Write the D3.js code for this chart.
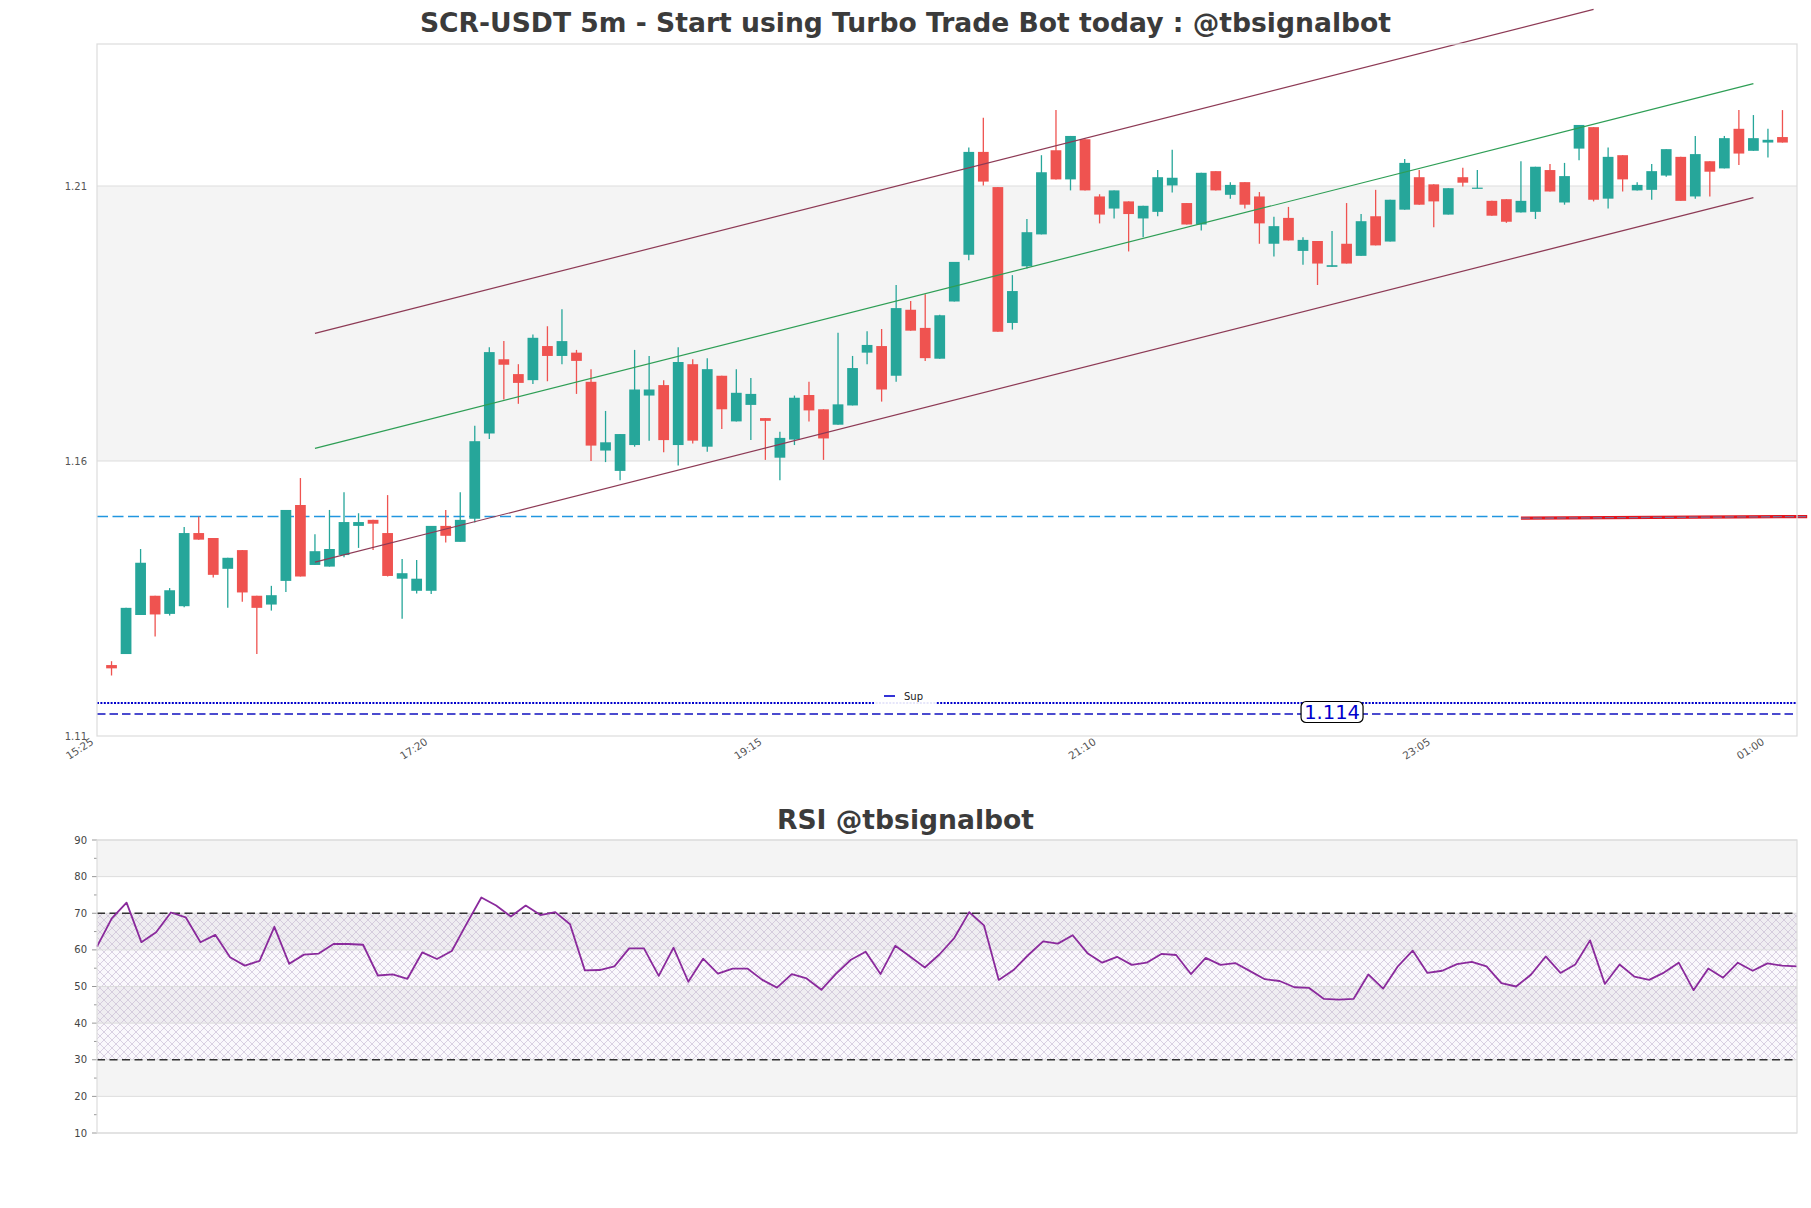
<!DOCTYPE html>
<html><head><meta charset="utf-8">
<script src="https://cdn.jsdelivr.net/npm/d3@7"></script>
<style>body{margin:0;background:#fff;} svg{display:block;}</style>
</head><body>
<svg id="chart" width="1811" height="1208"></svg>
<script>
// ---------------- DATA ----------------
const opens  = [1.1229,1.1249,1.1320,1.1355,1.1322,1.1336,1.1469,1.1460,1.1404,1.1438,1.1355,1.1339,1.1382,1.1520,1.1411,1.1408,1.1429,1.1482,1.1493,1.1469,1.1386,1.1364,1.1364,1.1482,1.1453,1.1495,1.1650,1.1785,1.1758,1.1747,1.1809,1.1791,1.1797,1.1744,1.1619,1.1582,1.1629,1.1719,1.1738,1.1629,1.1776,1.1626,1.1755,1.1672,1.1702,1.1678,1.1606,1.1639,1.1720,1.1694,1.1666,1.1701,1.1797,1.1809,1.1755,1.1875,1.1842,1.1786,1.1890,1.1975,1.2162,1.2098,1.1851,1.1954,1.2012,1.2165,1.2112,1.2185,1.2081,1.2059,1.2072,1.2041,1.2053,1.2101,1.2069,1.2030,1.2127,1.2084,1.2107,1.2081,1.1995,1.2042,1.1982,1.2000,1.1953,1.1995,1.1973,1.2045,1.1999,1.2057,1.2116,1.2103,1.2048,1.2116,1.2096,1.2073,1.2076,1.2052,1.2053,1.2129,1.2070,1.2168,1.2207,1.2077,1.2156,1.2092,1.2093,1.2119,1.2153,1.2081,1.2145,1.2132,1.2204,1.2164,1.2179,1.2189];
const highs  = [1.1236,1.1333,1.1440,1.1355,1.1369,1.1480,1.1499,1.1460,1.1424,1.1438,1.1355,1.1373,1.1511,1.1569,1.1467,1.1511,1.1543,1.1505,1.1493,1.1538,1.1422,1.1420,1.1482,1.1511,1.1543,1.1664,1.1807,1.1818,1.1776,1.1830,1.1845,1.1876,1.1802,1.1767,1.1691,1.1649,1.1802,1.1791,1.1747,1.1807,1.1785,1.1787,1.1755,1.1767,1.1751,1.1678,1.1653,1.1719,1.1744,1.1694,1.1833,1.1791,1.1836,1.1840,1.1920,1.1891,1.1903,1.1866,1.1962,1.2170,1.2224,1.2098,1.1938,1.2040,1.2156,1.2238,1.2191,1.2185,1.2085,1.2092,1.2072,1.2064,1.2129,1.2166,1.2069,1.2124,1.2127,1.2107,1.2107,1.2089,1.2044,1.2062,1.2007,1.2000,1.2018,1.2069,1.2049,1.2093,1.2075,1.2149,1.2129,1.2103,1.2096,1.2133,1.2129,1.2073,1.2076,1.2145,1.2135,1.2140,1.2142,1.2211,1.2207,1.2170,1.2156,1.2107,1.2140,1.2167,1.2153,1.2191,1.2145,1.2191,1.2238,1.2229,1.2204,1.2238];
const lows   = [1.1210,1.1249,1.1320,1.1281,1.1319,1.1334,1.1457,1.1388,1.1333,1.1344,1.1249,1.1328,1.1362,1.1390,1.1411,1.1408,1.1425,1.1442,1.1438,1.1390,1.1313,1.1359,1.1358,1.1452,1.1453,1.1488,1.1640,1.1712,1.1704,1.1740,1.1745,1.1776,1.1722,1.1600,1.1598,1.1565,1.1626,1.1637,1.1616,1.1592,1.1632,1.1617,1.1658,1.1672,1.1638,1.1602,1.1565,1.1629,1.1672,1.1602,1.1666,1.1701,1.1776,1.1708,1.1744,1.1837,1.1782,1.1786,1.1890,1.1965,1.2101,1.1835,1.1839,1.1950,1.2012,1.2112,1.2092,1.2092,1.2032,1.2041,1.1981,1.2007,1.2045,1.2088,1.2030,1.2019,1.2092,1.2077,1.2059,1.1995,1.1972,1.2001,1.1957,1.1920,1.1953,1.1959,1.1973,1.1992,1.1999,1.2057,1.2066,1.2025,1.2048,1.2099,1.2096,1.2046,1.2033,1.2052,1.2040,1.2090,1.2066,1.2147,1.2072,1.2059,1.2090,1.2092,1.2075,1.2117,1.2073,1.2077,1.2081,1.2132,1.2138,1.2164,1.2152,1.2179];
const closes = [1.1223,1.1333,1.1415,1.1321,1.1365,1.1469,1.1457,1.1393,1.1424,1.1361,1.1333,1.1356,1.1511,1.1390,1.1436,1.1440,1.1489,1.1489,1.1486,1.1391,1.1396,1.1386,1.1482,1.1464,1.1493,1.1636,1.1798,1.1775,1.1742,1.1824,1.1791,1.1818,1.1782,1.1628,1.1634,1.1649,1.1730,1.1730,1.1638,1.1780,1.1637,1.1767,1.1694,1.1724,1.1722,1.1673,1.1642,1.1715,1.1692,1.1641,1.1703,1.1769,1.1811,1.1730,1.1878,1.1837,1.1787,1.1865,1.1962,1.2162,1.2108,1.1835,1.1909,1.2016,1.2125,1.2112,1.2191,1.2092,1.2048,1.2092,1.2049,1.2064,1.2116,1.2115,1.2030,1.2124,1.2092,1.2102,1.2066,1.2032,1.2027,1.2001,1.2002,1.1959,1.1956,1.1959,1.2036,1.1992,1.2075,1.2142,1.2066,1.2072,1.2096,1.2106,1.2097,1.2046,1.2035,1.2073,1.2135,1.2090,1.2118,1.2211,1.2075,1.2153,1.2112,1.2102,1.2127,1.2167,1.2073,1.2158,1.2126,1.2187,1.2159,1.2187,1.2184,1.2179];
const rsiValues = [60.9,68.6,72.9,62.1,64.8,70.2,68.9,62.1,64.1,58.0,55.7,57.0,66.3,56.2,58.7,59.0,61.6,61.6,61.4,53.0,53.3,52.1,59.3,57.5,59.7,67.1,74.3,72.1,69.1,72.1,69.5,70.3,67.0,54.4,54.5,55.5,60.4,60.4,52.9,60.6,51.3,57.6,53.5,54.9,54.9,51.8,49.7,53.4,52.2,49.1,53.5,57.3,59.5,53.4,61.1,58.2,55.2,58.8,63.3,70.3,66.7,51.8,54.5,58.6,62.3,61.7,64.0,59.1,56.5,58.1,55.9,56.5,58.9,58.6,53.4,57.8,55.9,56.4,54.2,52.0,51.5,49.8,49.6,46.6,46.4,46.6,53.3,49.4,55.5,59.8,53.7,54.3,56.1,56.7,55.5,50.9,50.0,53.2,58.2,53.7,56.0,62.6,50.7,56.0,52.7,51.8,53.8,56.5,49.0,54.9,52.4,56.5,54.3,56.3,55.7,55.5];

const xTickIdx    = [-1, 22, 45, 68, 91, 114];
const xTickLabels = ["15:25","17:20","19:15","21:10","23:05","01:00"];
const priceTicks  = [1.11, 1.16, 1.21];
const rsiTicks    = [10,20,30,40,50,60,70,80,90];
const rsiMinor    = [15,25,35,45,55,65,75,85];

// channel lines [index, price]
const channelUpper = [[14, 1.1832], [102, 1.2421]];
const channelMid   = [[14, 1.1623], [113, 1.2286]];
const channelLower = [[14, 1.1416], [113, 1.2079]];
// horizontal levels
const resistLevel  = [[-1, 1.1499], [97, 1.1499]];
const redTrend     = [[97, 1.1496], [116.7, 1.1499]];
const supDotted    = 1.1160;
const supDashed    = 1.1140;
const supLabelIdx  = 84;
const supLabelText = "1.114";

// ---------------- LAYOUT ----------------
const svg = d3.select("#chart");
const L = 97, R = 1797, T = 44, B = 736;
const RT = 840, RB = 1133;
const x  = d3.scaleLinear().domain([-1, 116]).range([L, R]);
const y  = d3.scaleLinear().domain([1.11, 1.11 + (B - T) / 5500]).range([B, T]);
const xr = d3.scaleLinear().domain([0, rsiValues.length - 1]).range([L, R]);
const yr = d3.scaleLinear().domain([10, 90]).range([RB, RT]);
const font = "DejaVu Sans, Verdana, sans-serif";

svg.append("rect").attr("width",1811).attr("height",1208).attr("fill","#fff");

// titles
svg.append("text").attr("x",905.5).attr("y",32).attr("text-anchor","middle")
  .attr("font-family",font).attr("font-weight","bold").attr("font-size",26.6).attr("fill","#3b3b3b")
  .text("SCR-USDT 5m - Start using Turbo Trade Bot today : @tbsignalbot");
svg.append("text").attr("x",905.5).attr("y",829).attr("text-anchor","middle")
  .attr("font-family",font).attr("font-weight","bold").attr("font-size",26.6).attr("fill","#3b3b3b")
  .text("RSI @tbsignalbot");

// ---------- main panel ----------
const main = svg.append("g");
main.append("rect").attr("x",L).attr("y",y(1.21)).attr("width",R-L).attr("height",y(1.16)-y(1.21)).attr("fill","#f4f4f4");
main.selectAll("line.grid").data(priceTicks.slice(1)).enter().append("line")
  .attr("x1",L).attr("x2",R).attr("y1",d=>y(d)).attr("y2",d=>y(d)).attr("stroke","#dddddd").attr("stroke-width",1);

main.selectAll("text.yt").data(priceTicks).enter().append("text")
  .attr("x",87).attr("y",d=>y(d)+3.5).attr("text-anchor","end")
  .attr("font-family",font).attr("font-size",10).attr("fill","#555").text(d=>d.toFixed(2));

xTickIdx.forEach((idx,k)=>{
  main.append("text").attr("transform",`translate(${x(idx)-7},${B+1}) rotate(-33)`)
    .attr("text-anchor","end").attr("dy","0.75em").attr("font-family",font).attr("font-size",10.5).attr("fill","#555")
    .text(xTickLabels[k]);
});

const line = d3.line().x(d=>x(d[0])).y(d=>y(d[1]));

// support lines
main.append("line").attr("x1",L).attr("x2",R).attr("y1",y(supDotted)).attr("y2",y(supDotted))
  .attr("stroke","#0000cc").attr("stroke-width",2.2).attr("stroke-dasharray","2,1.4");
main.append("line").attr("x1",L).attr("x2",R).attr("y1",y(supDashed)).attr("y2",y(supDashed))
  .attr("stroke","#1010c0").attr("stroke-width",1.4).attr("stroke-dasharray","8.5,4");
// resistance dash-dot
main.append("path").attr("d",line(resistLevel)).attr("fill","none")
  .attr("stroke","#2196e0").attr("stroke-width",1.4).attr("stroke-dasharray","11,4.5");

// candles
const idx = d3.range(opens.length);
const bw = (x(1)-x(0))*0.74;
const cg = main.append("g");
cg.selectAll("line.wick").data(idx).enter().append("line")
  .attr("x1",i=>x(i)).attr("x2",i=>x(i)).attr("y1",i=>y(highs[i])).attr("y2",i=>y(lows[i]))
  .attr("stroke",i=>closes[i]>=opens[i]?"#26a69a":"#ef5350").attr("stroke-width",1.3);
cg.selectAll("rect.body").data(idx).enter().append("rect")
  .attr("x",i=>x(i)-bw/2).attr("width",bw)
  .attr("y",i=>y(Math.max(opens[i],closes[i])))
  .attr("height",i=>Math.max(1.2, Math.abs(y(opens[i])-y(closes[i]))))
  .attr("fill",i=>closes[i]>=opens[i]?"#26a69a":"#ef5350");

// channel
[[channelUpper,"#8d3a55"],[channelMid,"#2e9e55"],[channelLower,"#8d3a55"]].forEach(([d,c])=>{
  main.append("path").attr("d",line(d)).attr("fill","none").attr("stroke",c).attr("stroke-width",1.2);
});
// red trend
main.append("path").attr("d",line(redTrend)).attr("fill","none").attr("stroke","#e5141c").attr("stroke-width",3.2);
main.append("path").attr("d",line(redTrend)).attr("fill","none").attr("stroke","#7d6c94").attr("stroke-width",1.3).attr("stroke-dasharray","9,3");

// label 1.114
const lbl = main.append("g").attr("transform",`translate(${x(supLabelIdx)},${y(supDashed)-2})`);
lbl.append("rect").attr("x",-31).attr("y",-10.5).attr("width",62).attr("height",21).attr("rx",5)
  .attr("fill","#fff").attr("stroke","#000").attr("stroke-width",1.2);
lbl.append("text").attr("y",7).attr("text-anchor","middle").attr("font-family",font)
  .attr("font-size",19.5).attr("fill","#0000cc").text(supLabelText);

// legend
const lg = main.append("g").attr("transform","translate(874,687)");
lg.append("rect").attr("width",62).attr("height",18).attr("fill","#fff").attr("opacity",0.9);
lg.append("line").attr("x1",10).attr("x2",21).attr("y1",9).attr("y2",9).attr("stroke","#0000cc").attr("stroke-width",1.6);
lg.append("text").attr("x",30).attr("y",12.5).attr("font-family",font).attr("font-size",10).attr("fill","#222").text("Sup");

// frame
main.append("rect").attr("x",L).attr("y",T).attr("width",R-L).attr("height",B-T)
  .attr("fill","none").attr("stroke","#dcdcdc").attr("stroke-width",1.2);

// ---------- RSI panel ----------
const rp = svg.append("g");
const defs = svg.append("defs");
const pat = defs.append("pattern").attr("id","hatch").attr("patternUnits","userSpaceOnUse")
  .attr("width",8).attr("height",8);
pat.append("path").attr("d","M0,0L8,8M8,0L0,8M-1,7L1,9M7,-1L9,1").attr("stroke","#c3b5d0").attr("stroke-width",0.6).attr("fill","none");

const bands = d3.range(10,90,10);
rp.selectAll("rect.band").data(bands).enter().append("rect")
  .attr("x",L).attr("width",R-L).attr("y",d=>yr(d+10)).attr("height",d=>yr(d)-yr(d+10))
  .attr("fill",(d,i)=> i%2===1 ? "#f4f4f4" : "#ffffff");
rp.append("rect").attr("x",L).attr("width",R-L).attr("y",yr(70)).attr("height",yr(30)-yr(70))
  .attr("fill","rgba(170,140,200,0.06)");
rp.append("rect").attr("x",L).attr("width",R-L).attr("y",yr(70)).attr("height",yr(30)-yr(70))
  .attr("fill","url(#hatch)");
rp.selectAll("line.rg").data(rsiTicks).enter().append("line")
  .attr("x1",L).attr("x2",R).attr("y1",d=>yr(d)).attr("y2",d=>yr(d)).attr("stroke","#dddddd");
[70,30].forEach(v=>{
  rp.append("line").attr("x1",L).attr("x2",R).attr("y1",yr(v)).attr("y2",yr(v))
    .attr("stroke","#333").attr("stroke-width",1.3).attr("stroke-dasharray","8,4.5");
});
rp.selectAll("line.tk").data(rsiTicks).enter().append("line")
  .attr("x1",L-5).attr("x2",L).attr("y1",d=>yr(d)).attr("y2",d=>yr(d)).attr("stroke","#999");
rp.selectAll("line.mtk").data(rsiMinor).enter().append("line")
  .attr("x1",L-3).attr("x2",L).attr("y1",d=>yr(d)).attr("y2",d=>yr(d)).attr("stroke","#999");
rp.selectAll("text.rt").data(rsiTicks).enter().append("text")
  .attr("x",87).attr("y",d=>yr(d)+3.5).attr("text-anchor","end")
  .attr("font-family",font).attr("font-size",10).attr("fill","#444").text(d=>d);

rp.append("path").datum(rsiValues)
  .attr("d",d3.line().x((d,i)=>xr(i)).y(d=>yr(d)))
  .attr("fill","none").attr("stroke","#8a2a9c").attr("stroke-width",1.8).attr("stroke-linejoin","round");

rp.append("rect").attr("x",L).attr("y",RT).attr("width",R-L).attr("height",RB-RT)
  .attr("fill","none").attr("stroke","#dcdcdc").attr("stroke-width",1.2);
</script>
</body></html>
